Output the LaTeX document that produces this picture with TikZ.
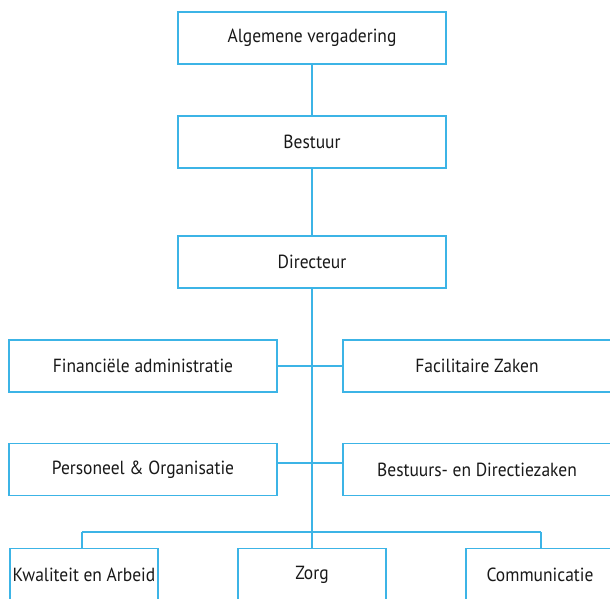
\documentclass[tikz,border=0pt]{standalone}
\usepackage{fontspec}
\setmainfont{PT Sans}[FakeStretch=0.92]
\definecolor{lineblue}{RGB}{60,180,230}
\tikzset{
  x=1pt, y=-1pt,
  box/.style={draw=lineblue, line width=1.3pt, fill=white, inner sep=0pt, font=\fontsize{19}{21}\selectfont, text=black!90},
  wide/.style={box, minimum width=268pt, minimum height=52pt},
  narrow/.style={box, minimum width=148pt, minimum height=52pt},
  conn/.style={draw=lineblue, line width=1.3pt}
}
\begin{document}
\begin{tikzpicture}
\useasboundingbox (0,0) rectangle (610,599);
\clip (0,0) rectangle (610,599);
\coordinate (hl) at (82,532);
\coordinate (hr) at (541,532);
\coordinate (jp) at (312,463);
\coordinate (jb) at (312,532);
\node[wide] (av) at (312,38) {Algemene vergadering};
\node[wide] (be) at (312,142) {Bestuur};
\node[wide] (di) at (312,262) {Directeur};
\node[wide] (fa) at (143,366) {Financiële administratie};
\node[wide] (fz) at (477,366) {Facilitaire Zaken};
\node[wide] (po) at (143,469.5) {Personeel \& Organisatie};
\node[wide] (bd) at (477,469.5) {Bestuurs- en Directiezaken};
\draw[conn] (av.south) -- (be.north);
\draw[conn] (be.south) -- (di.north);
\draw[conn] (di.south) -- (jb);
\draw[conn] (fa.east) -- (fz.west);
\draw[conn] (po.east |- jp) -- (bd.west |- jp);
\draw[conn] (hl) -- (hr);
\node[narrow, anchor=north] (kw) at (84,548) {Kwaliteit en Arbeid};
\node[narrow, anchor=north] (zo) at (312,548) {Zorg};
\node[narrow, anchor=north] (co) at (540,548) {Communicatie};
\draw[conn] (hl) -- (kw.north -| hl);
\draw[conn] (jb) -- (zo.north);
\draw[conn] (hr) -- (co.north -| hr);
\end{tikzpicture}
\end{document}
